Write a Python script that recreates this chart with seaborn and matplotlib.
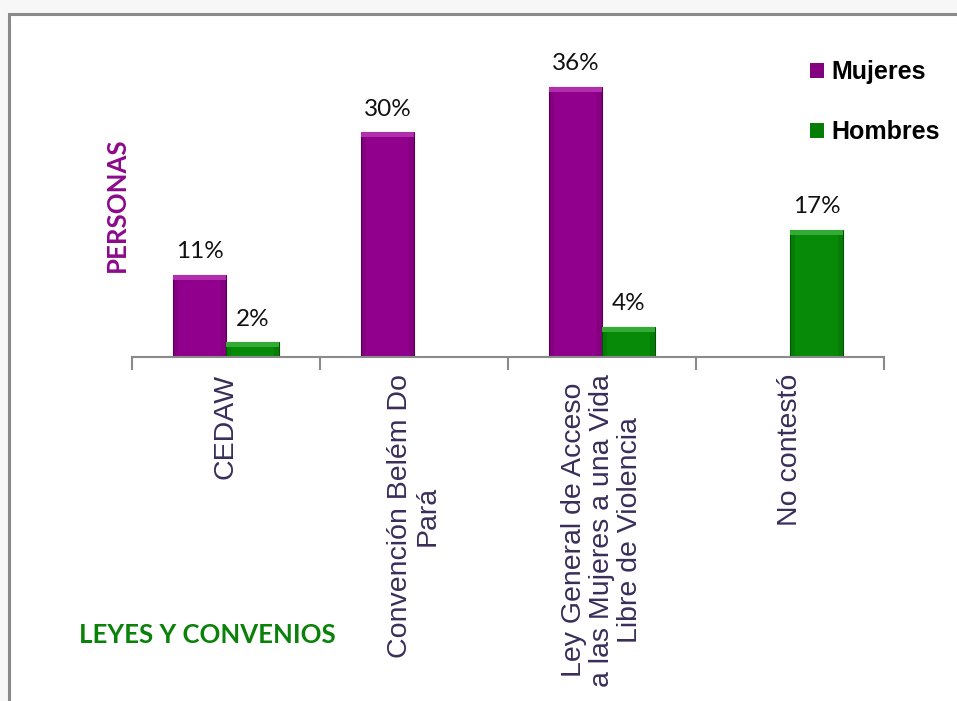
import numpy as np
import pandas as pd
import seaborn as sns
import matplotlib.pyplot as plt
from matplotlib.patches import Rectangle

categorias = ["CEDAW", "Convención Belém Do\nPará",
              "Ley General de Acceso\na las Mujeres a una Vida\nLibre de Violencia",
              "No contestó"]
mujeres = [11, 30, 36, 0]
hombres = [2, 0, 4, 17]
series = ["Mujeres", "Hombres"]

df = pd.DataFrame({
    "categoria": categorias * 2,
    "valor": mujeres + hombres,
    "sexo": ["Mujeres"] * len(categorias) + ["Hombres"] * len(categorias),
})

purple = "#83007f"
green = "#067d06"

sns.set_style("white")
plt.rcParams["font.family"] = ["Liberation Sans", "DejaVu Sans"]

fig = plt.figure(figsize=(9.57, 7.01), dpi=100)
fig.patch.set_facecolor("#f7f7f7")
# marco blanco del grafico
fig.patches.append(Rectangle((9 / 957, -0.05), 1.05, 1 - 14 / 701 + 0.05,
                             transform=fig.transFigure, facecolor="white",
                             edgecolor="#8a8a8a", lw=2.2, zorder=-5))

ax = fig.add_axes([132 / 957, (701 - 357) / 701, 752 / 957, 300 / 701])
ax.set_facecolor("none")
sns.barplot(data=df, x="categoria", y="valor", hue="sexo", hue_order=series,
            palette=[purple, green], saturation=1, width=0.565, gap=0, ax=ax,
            edgecolor="none", linewidth=0, legend=True)

# brillo / bisel simple en cada barra
for p in list(ax.patches):
    h = p.get_height()
    if h <= 0:
        continue
    x0, w = p.get_x(), p.get_width()
    col = p.get_facecolor()
    p.set_edgecolor(tuple(c * 0.65 for c in col[:3]))
    p.set_linewidth(0.8)
    ax.add_patch(Rectangle((x0 + w * 0.1, 0), w * 0.8, h - 0.7,
                           facecolor=tuple(min(1, c * 1.1) for c in col[:3]),
                           edgecolor="none", zorder=p.get_zorder() + 0.1))
    ax.add_patch(Rectangle((x0, h - 0.7), w, 0.7,
                           facecolor=tuple(min(1, c + 0.18) for c in col[:3]),
                           edgecolor="none", zorder=p.get_zorder() + 0.2))

# etiquetas de porcentaje
for cont in ax.containers:
    for bar in cont:
        h = bar.get_height()
        if h <= 0:
            continue
        ax.annotate(f"{h:.0f}%", (bar.get_x() + bar.get_width() / 2, h),
                    xytext=(0, 9), textcoords="offset points",
                    ha="center", va="bottom", fontsize=17.5,
                    fontfamily="Lato", fontweight="normal", color="#111111")

ax.set_ylim(0, 40)
ax.set_xlim(-0.5, 3.5)
ax.set_xlabel("")
ax.set_ylabel("")
ax.set_yticks([])
for s in ["top", "right", "left"]:
    ax.spines[s].set_visible(False)
ax.spines["bottom"].set_color("#8a8a8a")
ax.spines["bottom"].set_linewidth(1.5)
ax.set_xticks(np.arange(-0.5, 4, 1), minor=True)
ax.tick_params(axis="x", which="minor", bottom=True, length=9, width=1.5,
               color="#8a8a8a", direction="out")
ax.tick_params(axis="x", which="major", length=0, pad=12)
ax.set_xticks(range(len(categorias)))
ax.set_xticklabels(categorias, rotation=90, fontsize=20.5, color="#3a2d5a",
                   ha="center", va="top", multialignment="center",
                   linespacing=1.08)

leg = ax.legend(loc="upper left", bbox_to_anchor=(800 / 957, 1 - 50 / 701),
                bbox_transform=fig.transFigure, frameon=False,
                prop={"size": 18, "weight": "bold"}, handlelength=0.55,
                handleheight=0.55, handletextpad=0.3, labelspacing=1.45,
                borderaxespad=0, labelcolor="black")

fig.text(117 / 957, 1 - 205 / 701, "PERSONAS", rotation=90, ha="center",
         va="center", fontsize=18.5, fontweight="bold", color="#8b0a8b",
         fontfamily="Lato")
fig.text(207 / 957, 1 - 635 / 701, "LEYES Y CONVENIOS", ha="center",
         va="center", fontsize=18.5, fontweight="bold", color="#0a820a",
         fontfamily="Lato")

fig.savefig("out.png", dpi=100, facecolor=fig.get_facecolor())
